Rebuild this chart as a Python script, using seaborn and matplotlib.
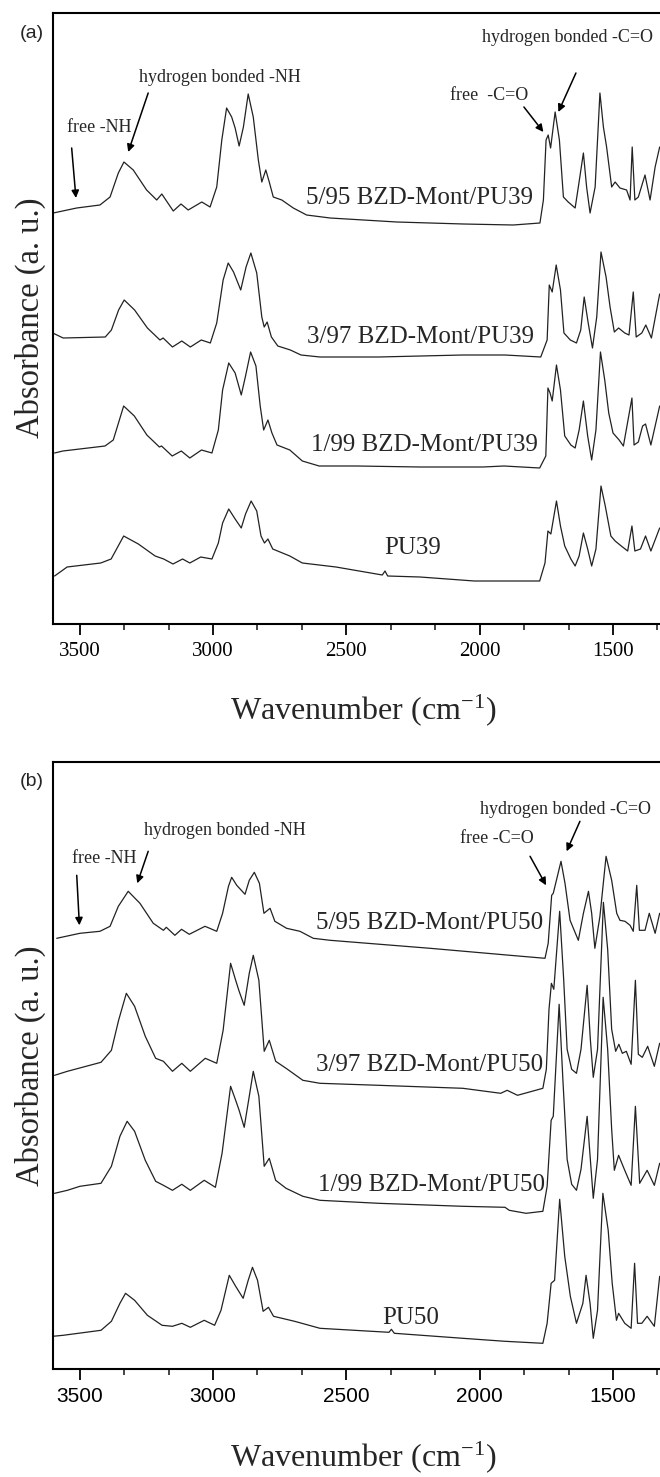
import matplotlib
matplotlib.use("Agg")
import matplotlib.pyplot as plt
import numpy as np
import pandas as pd
import seaborn as sns
from matplotlib.ticker import MultipleLocator

# ---------------- data (wavenumber cm-1, absorbance a.u.) ----------------
pu39_595 = [(3599, 411), (3511, 416), (3424, 419), (3386, 427), (3355, 451), (3334, 462), (3299, 454),
            (3249, 434), (3211, 424), (3192, 430), (3149, 413), (3120, 420), (3093, 414), (3042, 422),
            (3011, 417), (2986, 437), (2967, 484), (2949, 516), (2930, 507), (2917, 496), (2902, 478),
            (2886, 497), (2868, 530), (2849, 507), (2830, 464), (2817, 442), (2802, 454), (2789, 442),
            (2774, 427), (2742, 424), (2699, 416), (2649, 409), (2561, 406), (2311, 402), (2061, 400),
            (1874, 399), (1774, 401), (1761, 424), (1751, 484), (1743, 489), (1734, 476), (1717, 512),
            (1701, 484), (1686, 427), (1668, 422), (1642, 416), (1630, 437), (1611, 471), (1599, 437),
            (1586, 411), (1567, 437), (1549, 531), (1536, 497), (1524, 477), (1505, 437), (1492, 442),
            (1474, 436), (1449, 434), (1436, 424), (1428, 477), (1418, 424), (1405, 427), (1380, 449),
            (1361, 424), (1342, 457), (1325, 477)]
pu39_397 = [(3601, 291), (3562, 286), (3404, 287), (3381, 294), (3354, 314), (3333, 324), (3294, 314),
            (3246, 296), (3199, 284), (3187, 286), (3152, 277), (3117, 283), (3085, 277), (3044, 284),
            (3010, 281), (2986, 301), (2962, 344), (2943, 361), (2923, 352), (2896, 334), (2876, 357),
            (2858, 371), (2836, 351), (2817, 307), (2808, 297), (2797, 302), (2781, 287), (2757, 278),
            (2710, 274), (2670, 269), (2599, 267), (2379, 267), (2063, 269), (1905, 269), (1771, 267),
            (1747, 284), (1739, 339), (1728, 332), (1713, 359), (1697, 334), (1684, 291), (1660, 284),
            (1637, 281), (1621, 294), (1608, 327), (1593, 301), (1577, 276), (1561, 307), (1545, 372),
            (1526, 347), (1511, 317), (1495, 292), (1479, 296), (1456, 291), (1440, 289), (1424, 332),
            (1413, 287), (1392, 291), (1377, 299), (1356, 286), (1325, 330)]
pu39_199 = [(3594, 171), (3563, 173), (3405, 178), (3374, 184), (3335, 218), (3295, 208), (3248, 189),
            (3201, 177), (3193, 178), (3153, 168), (3119, 173), (3087, 166), (3043, 174), (3004, 171),
            (2980, 194), (2964, 234), (2941, 261), (2917, 251), (2894, 229), (2878, 248), (2859, 272),
            (2839, 258), (2823, 218), (2810, 194), (2794, 204), (2779, 191), (2760, 179), (2712, 174),
            (2665, 163), (2602, 158), (2460, 158), (2224, 157), (1988, 157), (1909, 158), (1775, 156),
            (1752, 168), (1744, 236), (1736, 231), (1728, 223), (1712, 259), (1697, 234), (1681, 188),
            (1658, 179), (1642, 176), (1627, 194), (1611, 223), (1595, 188), (1580, 164), (1564, 194),
            (1547, 272), (1531, 244), (1516, 211), (1500, 191), (1477, 184), (1461, 178), (1429, 226),
            (1421, 179), (1405, 182), (1389, 198), (1378, 200), (1358, 179), (1325, 218)]
pu39_neat = [(3594, 48), (3547, 57), (3421, 61), (3382, 65), (3335, 88), (3280, 80), (3217, 68),
             (3185, 65), (3150, 60), (3114, 65), (3087, 61), (3046, 67), (3004, 65), (2980, 81),
             (2964, 101), (2941, 115), (2917, 105), (2894, 96), (2878, 110), (2857, 123), (2836, 113),
             (2820, 88), (2807, 81), (2794, 85), (2776, 75), (2712, 68), (2665, 61), (2539, 57),
             (2365, 49), (2355, 53), (2345, 48), (2224, 47), (2020, 43), (1775, 43), (1755, 61),
             (1744, 93), (1733, 90), (1712, 123), (1697, 98), (1681, 78), (1658, 65), (1642, 58),
             (1627, 68), (1611, 91), (1595, 75), (1580, 58), (1564, 75), (1545, 138), (1529, 118),
             (1508, 88), (1492, 83), (1469, 78), (1445, 73), (1429, 98), (1418, 73), (1397, 75),
             (1378, 88), (1358, 73), (1325, 96)]

pu50_595 = [(3586, 431), (3499, 436), (3424, 438), (3386, 443), (3355, 463), (3318, 478), (3274, 466),
            (3224, 446), (3186, 439), (3175, 442), (3143, 434), (3118, 440), (3089, 435), (3030, 443),
            (2986, 438), (2964, 456), (2942, 483), (2930, 492), (2911, 484), (2880, 475), (2864, 489),
            (2845, 497), (2826, 486), (2809, 456), (2786, 461), (2768, 448), (2724, 441), (2674, 438),
            (2624, 431), (2561, 429), (2186, 421), (1886, 414), (1755, 411), (1743, 426), (1730, 474),
            (1724, 476), (1695, 508), (1680, 486), (1661, 449), (1630, 429), (1611, 456), (1592, 478),
            (1580, 456), (1568, 421), (1549, 453), (1526, 513), (1505, 489), (1486, 456), (1474, 449),
            (1455, 448), (1436, 444), (1424, 438), (1411, 484), (1401, 439), (1380, 439), (1364, 456),
            (1342, 436), (1325, 456)]
pu50_397 = [(3594, 294), (3546, 298), (3420, 307), (3381, 319), (3354, 349), (3325, 376), (3294, 363),
            (3254, 333), (3215, 311), (3186, 308), (3152, 298), (3117, 306), (3085, 298), (3029, 311),
            (2986, 306), (2962, 339), (2934, 406), (2915, 389), (2902, 378), (2883, 364), (2864, 396),
            (2849, 414), (2828, 389), (2808, 318), (2789, 329), (2765, 308), (2726, 301), (2663, 289),
            (2599, 286), (2379, 284), (2063, 281), (1921, 276), (1897, 279), (1858, 274), (1763, 281),
            (1750, 300), (1740, 360), (1731, 386), (1722, 380), (1700, 458), (1685, 390), (1672, 320),
            (1655, 300), (1637, 296), (1620, 320), (1597, 384), (1585, 330), (1574, 292), (1558, 320),
            (1536, 467), (1520, 420), (1505, 340), (1490, 318), (1478, 325), (1465, 316), (1450, 318),
            (1432, 305), (1416, 389), (1405, 315), (1390, 312), (1370, 323), (1345, 303), (1325, 326)]
pu50_199 = [(3594, 176), (3546, 179), (3499, 183), (3420, 186), (3381, 203), (3349, 233), (3322, 248),
            (3294, 238), (3254, 209), (3215, 188), (3186, 184), (3152, 179), (3117, 185), (3085, 179),
            (3033, 189), (2991, 182), (2966, 216), (2934, 283), (2915, 269), (2902, 259), (2883, 242),
            (2864, 273), (2849, 298), (2828, 273), (2808, 203), (2789, 211), (2765, 189), (2726, 181),
            (2663, 173), (2599, 169), (2379, 166), (2063, 163), (1905, 162), (1889, 159), (1826, 156),
            (1763, 158), (1747, 183), (1732, 249), (1724, 253), (1702, 365), (1688, 290), (1672, 210),
            (1655, 185), (1637, 179), (1620, 200), (1597, 253), (1585, 210), (1574, 171), (1558, 210),
            (1537, 372), (1520, 320), (1505, 240), (1495, 199), (1479, 214), (1456, 199), (1432, 184),
            (1416, 263), (1400, 186), (1372, 199), (1345, 184), (1325, 206)]
pu50_neat = [(3601, 33), (3562, 34), (3420, 39), (3381, 48), (3349, 66), (3328, 76), (3294, 69),
             (3246, 54), (3191, 44), (3152, 43), (3117, 46), (3085, 42), (3033, 49), (2994, 44),
             (2970, 59), (2939, 94), (2915, 83), (2887, 71), (2868, 89), (2852, 102), (2833, 89),
             (2812, 58), (2792, 62), (2773, 53), (2694, 48), (2599, 41), (2340, 37), (2331, 40),
             (2320, 36), (2063, 31), (1905, 28), (1763, 26), (1747, 46), (1732, 86), (1719, 89),
             (1700, 170), (1681, 113), (1660, 73), (1637, 46), (1613, 66), (1601, 94), (1586, 66),
             (1574, 31), (1558, 59), (1538, 176), (1518, 139), (1503, 86), (1487, 49), (1479, 56),
             (1456, 46), (1432, 41), (1419, 106), (1408, 46), (1392, 46), (1372, 53), (1345, 43),
             (1325, 93)]

labels_a = ["5/95 BZD-Mont/PU39", "3/97 BZD-Mont/PU39", "1/99 BZD-Mont/PU39", "PU39"]
labels_b = ["5/95 BZD-Mont/PU50", "3/97 BZD-Mont/PU50", "1/99 BZD-Mont/PU50", "PU50"]
x_ticks = [3500, 3000, 2500, 2000, 1500]

# ---------------- styling ----------------
sns.set_theme(style="ticks")
plt.rcParams['font.family'] = ['Liberation Serif', 'DejaVu Serif']
plt.rcParams['mathtext.fontset'] = 'stix'
plt.rcParams['axes.linewidth'] = 1.5

W, H = 660, 1477
fig = plt.figure(figsize=(W / 100, H / 100), dpi=100)
fig.patch.set_facecolor('white')

LINE = '#222222'


def make_axes(top_px, bottom_px):
    left_px = 53
    xmin_wn, xmax_wn = 3600, 1250
    width_px = (xmin_wn - xmax_wn) / 3.75
    ax = fig.add_axes([left_px / W, 1 - bottom_px / H, width_px / W, (bottom_px - top_px) / H])
    ax.set_xlim(xmin_wn, xmax_wn)
    ax.set_ylim(0, bottom_px - top_px)
    ax.set_facecolor('white')
    return ax


def draw_panel(ax, traces, label_font):
    for tr in traces:
        df = pd.DataFrame(tr, columns=['wn', 'absorb'])
        sns.lineplot(data=df, x='wn', y='absorb', ax=ax, color=LINE, lw=0.9,
                     estimator=None, sort=False)
    ax.set_xlabel('')
    ax.set_ylabel('')
    ax.set_yticks([])
    ax.set_xticks(x_ticks)
    ax.set_xticklabels([str(t) for t in x_ticks])
    ax.xaxis.set_minor_locator(MultipleLocator(500 / 3))
    ax.tick_params(axis='x', which='major', direction='out', length=8, width=1.3,
                   labelsize=15, pad=5, top=False, colors='black', labelfontfamily=label_font)
    ax.tick_params(axis='x', which='minor', direction='out', length=4.5, width=1.2, top=False)
    for s in ['left', 'bottom', 'top', 'right']:
        ax.spines[s].set_color('black')
        ax.spines[s].set_linewidth(1.5)


def arrow(ax, start, end):
    ax.annotate('', xy=end, xytext=start,
                arrowprops=dict(arrowstyle='-|>', color='black', lw=1.1,
                                mutation_scale=11, shrinkA=0, shrinkB=0))


def fx(px):
    return px / W


def fy(py):
    return 1 - py / H


# ---------------- panel (a) ----------------
ax_a = make_axes(13, 624)
draw_panel(ax_a, [pu39_595, pu39_397, pu39_199, pu39_neat], 'Liberation Serif')
ax_a.text(1800, 426, labels_a[0], ha='right', va='center', fontsize=18)
ax_a.text(1795, 287, labels_a[1], ha='right', va='center', fontsize=18)
ax_a.text(1783, 179, labels_a[2], ha='right', va='center', fontsize=18)
ax_a.text(2253, 76, labels_a[3], ha='center', va='center', fontsize=18)

ax_a.text(3427, 496, 'free -NH', ha='center', va='center', fontsize=13)
ax_a.text(2974, 547, 'hydrogen bonded -NH', ha='center', va='center', fontsize=13)
ax_a.text(1965, 529, 'free  -C=O', ha='center', va='center', fontsize=13)
ax_a.text(1669, 587, 'hydrogen bonded -C=O', ha='center', va='center', fontsize=13)
arrow(ax_a, (3530, 476), (3514, 426))
arrow(ax_a, (3243, 531), (3318, 472))
arrow(ax_a, (1834, 517), (1761, 492))
arrow(ax_a, (1639, 551), (1705, 512))

fig.text(fx(32), fy(33), '(a)', ha='center', va='center', fontsize=14,
         family=['Liberation Sans', 'DejaVu Sans'])
fig.text(fx(30), fy(318), 'Absorbance (a. u.)', rotation=90, ha='center', va='center', fontsize=23.5)
fig.text(fx(364), fy(711), 'Wavenumber (cm$^{\\mathregular{-1}}$)', ha='center', va='center', fontsize=23)

# ---------------- panel (b) ----------------
ax_b = make_axes(761.7, 1369.3)
draw_panel(ax_b, [pu50_595, pu50_397, pu50_199, pu50_neat], 'Liberation Sans')
ax_b.text(1763, 446, labels_b[0], ha='right', va='center', fontsize=18)
ax_b.text(1763, 304, labels_b[1], ha='right', va='center', fontsize=18)
ax_b.text(1755, 184, labels_b[2], ha='right', va='center', fontsize=18)
ax_b.text(2257, 51, labels_b[3], ha='center', va='center', fontsize=18)

ax_b.text(3409, 511, 'free -NH', ha='center', va='center', fontsize=13)
ax_b.text(2955, 539, 'hydrogen bonded -NH', ha='center', va='center', fontsize=13)
ax_b.text(1936, 531, 'free -C=O', ha='center', va='center', fontsize=13)
ax_b.text(1678, 560, 'hydrogen bonded -C=O', ha='center', va='center', fontsize=13)
arrow(ax_b, (3511, 494), (3501, 444))
arrow(ax_b, (3243, 518), (3284, 486))
arrow(ax_b, (1811, 513), (1751, 484))
arrow(ax_b, (1624, 548), (1674, 518))

fig.text(fx(32), fy(782), '(b)', ha='center', va='center', fontsize=14,
         family=['Liberation Sans', 'DejaVu Sans'])
fig.text(fx(30), fy(1066), 'Absorbance (a. u.)', rotation=90, ha='center', va='center', fontsize=23.5)
fig.text(fx(364), fy(1458), 'Wavenumber (cm$^{\\mathregular{-1}}$)', ha='center', va='center', fontsize=23)

fig.savefig('out.png', dpi=100, facecolor='white')
